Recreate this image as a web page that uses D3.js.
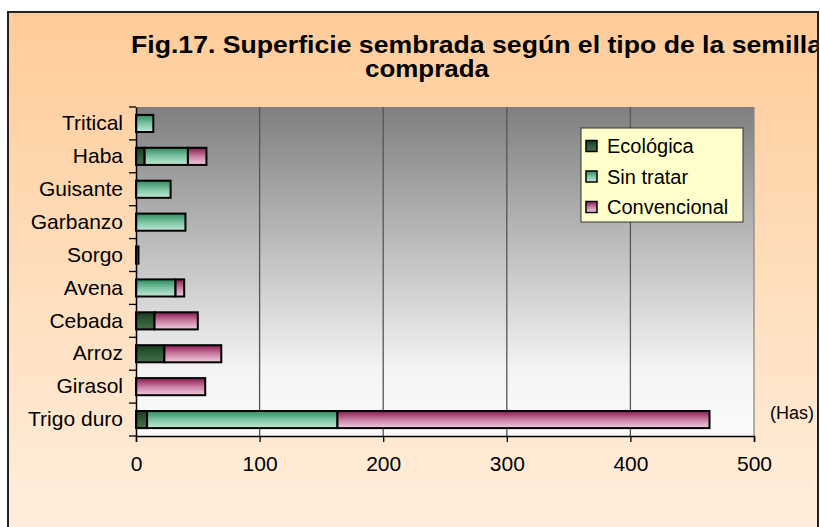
<!DOCTYPE html>
<html>
<head>
<meta charset="utf-8">
<script src="https://cdn.jsdelivr.net/npm/d3@7"></script>
<style>
  html, body { margin: 0; padding: 0; background: #ffffff; }
  svg { display: block; font-family: "Liberation Sans", Arial, Helvetica, sans-serif; }
</style>
</head>
<body>
<svg id="chart" width="820" height="527"></svg>
<script>
// ---- data ----
const categories = ["Tritical", "Haba", "Guisante", "Garbanzo", "Sorgo", "Avena", "Cebada", "Arroz", "Girasol", "Trigo duro"];
const seriesNames = ["Ecológica", "Sin tratar", "Convencional"];
const ecologica    = [0, 7, 0, 0, 0, 0, 15, 23, 0, 9];
const sinTratar    = [14, 35, 28, 40, 0, 32, 0, 0, 0, 154];
const convencional = [0, 15, 0, 0, 2, 7, 35, 46, 56, 301];
const xTicks = [0, 100, 200, 300, 400, 500];
const titleLines = ["Fig.17. Superficie sembrada según el tipo de la semilla", "comprada"];
const unitLabel = "(Has)";

// ---- setup ----
const svg = d3.select("#chart");
const defs = svg.append("defs");

function vGrad(id, stops) {
  const g = defs.append("linearGradient").attr("id", id)
    .attr("x1", 0).attr("y1", 0).attr("x2", 0).attr("y2", 1);
  stops.forEach(s => g.append("stop").attr("offset", s[0]).attr("stop-color", s[1]));
}
vGrad("bgGrad", [[0, "#ffcc99"], [0.45, "#ffdcb8"], [1, "#ffefdf"]]);
vGrad("plotGrad", [[0, "#7f7f7f"], [0.8, "#f4f4f4"], [1, "#fbfbfb"]]);
vGrad("gEco", [[0, "#173a1f"], [0.5, "#2f5a37"], [1, "#456f4a"]]);
vGrad("gSin", [[0, "#2f8a5c"], [0.5, "#7cc4a2"], [1, "#c4e9d8"]]);
vGrad("gConv", [[0, "#86194f"], [0.5, "#c97ea3"], [1, "#f2cde0"]]);
const fills = ["url(#gEco)", "url(#gSin)", "url(#gConv)"];

// background frame
svg.append("rect").attr("x", 8).attr("y", 12).attr("width", 810).attr("height", 530)
  .attr("fill", "url(#bgGrad)");

// scales
const x = d3.scaleLinear().domain([0, 500]).range([136, 754]);
const y = d3.scaleBand().domain(categories).range([107, 436]).padding(0);
const barH = y.bandwidth() * 0.52;

// plot area
svg.append("rect").attr("x", x(0)).attr("y", 107)
  .attr("width", x(500) - x(0)).attr("height", 436 - 107)
  .attr("fill", "url(#plotGrad)");

// gridlines
svg.append("g").selectAll("line").data(xTicks.slice(1)).join("line")
  .attr("x1", d => x(d)).attr("x2", d => x(d))
  .attr("y1", 107).attr("y2", 436)
  .attr("stroke", d => d === 500 ? "#8a8a8a" : "#555555").attr("stroke-width", 1.3);

// stacked bars
const rows = categories.map((c, i) => ({ cat: c, vals: [ecologica[i], sinTratar[i], convencional[i]] }));
const stack = d3.stack().keys([0, 1, 2]).value((d, k) => d.vals[k]);
const stacked = stack(rows);
svg.append("g").selectAll("g").data(stacked).join("g")
  .attr("fill", (d, i) => fills[i])
  .selectAll("rect").data(d => d.filter(s => s[1] - s[0] > 0)).join("rect")
  .attr("x", d => x(d[0]))
  .attr("y", d => y(d.data.cat) + (y.bandwidth() - barH) / 2)
  .attr("width", d => x(d[1]) - x(d[0]))
  .attr("height", barH)
  .attr("stroke", "#000").attr("stroke-width", 2);

// x axis
const xAxis = svg.append("g").attr("transform", "translate(0,436)")
  .call(d3.axisBottom(x).tickValues(xTicks).tickSize(6).tickPadding(14).tickFormat(d3.format("d")));
xAxis.select(".domain").attr("stroke", "#000").attr("stroke-width", 1.5);
xAxis.selectAll(".tick line").attr("stroke", "#000").attr("stroke-width", 1.3);
xAxis.selectAll(".tick text").attr("font-size", 21).attr("fill", "#000")
  .attr("font-family", "'Liberation Sans', Arial, sans-serif");

// y axis
const yAxis = svg.append("g").attr("transform", `translate(${x(0)},0)`)
  .call(d3.axisLeft(y).tickSize(0).tickPadding(13));
yAxis.select(".domain").attr("stroke", "#000").attr("stroke-width", 1.5);
yAxis.selectAll(".tick text").attr("font-size", 21).attr("fill", "#000")
  .attr("font-family", "'Liberation Sans', Arial, sans-serif");
// category separator ticks
const bounds = categories.map(c => y(c)).concat([y.range()[1]]);
yAxis.append("g").selectAll("line").data(bounds).join("line")
  .attr("x1", -7).attr("x2", 0).attr("y1", d => d).attr("y2", d => d)
  .attr("stroke", "#000").attr("stroke-width", 1.3);

// unit label
svg.append("text").attr("x", 792).attr("y", 419).attr("text-anchor", "middle")
  .attr("font-size", 18).attr("fill", "#000").text(unitLabel);

// legend
const lg = svg.append("g");
lg.append("rect").attr("x", 581).attr("y", 128).attr("width", 162).attr("height", 94)
  .attr("fill", "#ffffcc").attr("stroke", "#333").attr("stroke-width", 1);
seriesNames.forEach((name, i) => {
  const cy = 146 + i * 30.5;
  lg.append("rect").attr("x", 586).attr("y", cy - 5.5).attr("width", 11).attr("height", 11)
    .attr("fill", fills[i]).attr("stroke", "#000").attr("stroke-width", 1.5);
  lg.append("text").attr("x", 607).attr("y", cy + 7).attr("font-size", 20).attr("fill", "#000").text(name);
});

// title
svg.append("text").attr("x", 131).attr("y", 53).attr("font-size", 23).attr("font-weight", "bold")
  .attr("textLength", 691).attr("lengthAdjust", "spacingAndGlyphs").attr("fill", "#000").text(titleLines[0]);
svg.append("text").attr("x", 427).attr("y", 77).attr("text-anchor", "middle").attr("font-size", 23).attr("font-weight", "bold")
  .attr("textLength", 124).attr("lengthAdjust", "spacingAndGlyphs").attr("fill", "#000").text(titleLines[1]);

// frame border (drawn last, clips title overflow visually)
svg.append("rect").attr("x", 818).attr("y", 0).attr("width", 2).attr("height", 527).attr("fill", "#ffffff");
svg.append("path").attr("d", "M8,545 L8,12 L818,12 L818,545")
  .attr("fill", "none").attr("stroke", "#222").attr("stroke-width", 2);
</script>
</body>
</html>
